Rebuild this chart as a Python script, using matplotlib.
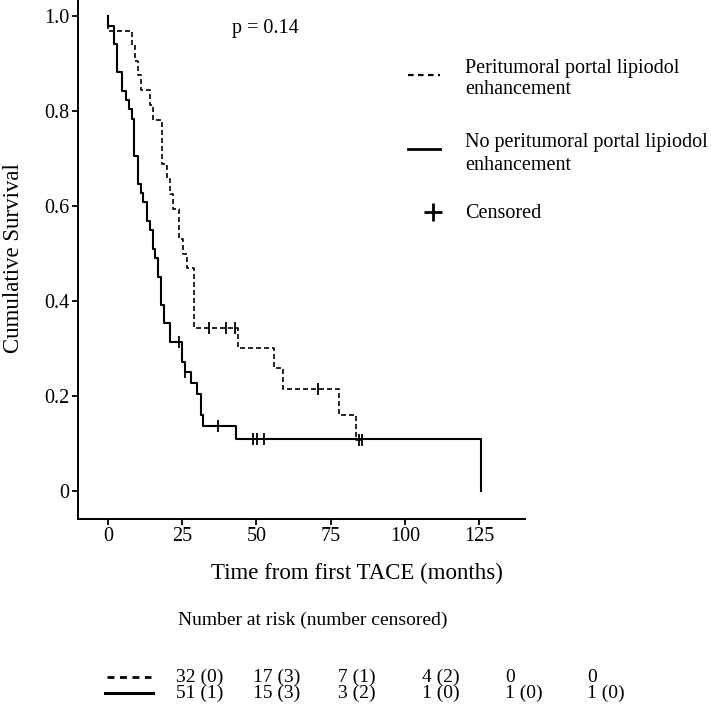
import matplotlib
matplotlib.use("Agg")
import matplotlib.pyplot as plt
from matplotlib.lines import Line2D

plt.rcParams['font.family'] = ['Liberation Serif', 'DejaVu Serif']

# ---------------- data ----------------
dashed_times = [0.0, 8.1, 9.1, 10.0, 11.0, 14.1, 15.0, 18.1, 20.0, 21.0, 22.0,
                23.9, 25.3, 26.7, 28.9, 43.7, 55.8, 58.8, 77.8, 83.7]
dashed_surv = [0.969, 0.938, 0.906, 0.875, 0.844, 0.813, 0.781, 0.688, 0.656,
               0.625, 0.594, 0.531, 0.500, 0.469, 0.344, 0.301, 0.258, 0.215,
               0.161, 0.108]
dashed_end = 85.6
dashed_cens_t = [34.0, 39.9, 42.8, 70.7, 84.7, 85.6]
dashed_cens_s = [0.344, 0.344, 0.344, 0.215, 0.108, 0.108]

solid_times = [0.0, 2.1, 3.1, 4.8, 6.1, 7.2, 8.1, 8.9, 10.0, 11.0, 11.9, 13.0,
               14.0, 15.0, 16.0, 16.8, 17.9, 19.0, 21.0, 25.0, 25.9, 27.8, 30.1,
               31.3, 32.1, 43.0, 125.7]
solid_surv = [0.980, 0.941, 0.882, 0.843, 0.824, 0.804, 0.784, 0.706, 0.647,
              0.627, 0.608, 0.569, 0.549, 0.510, 0.490, 0.451, 0.392, 0.353,
              0.314, 0.272, 0.251, 0.228, 0.205, 0.160, 0.137, 0.110, 0.0]
solid_cens_t = [23.9, 26.0, 36.9, 49.0, 50.2, 52.7]
solid_cens_s = [0.314, 0.251, 0.137, 0.110, 0.110, 0.110]

x_ticks = [0, 25, 50, 75, 100, 125]
y_ticks = [0, 0.2, 0.4, 0.6, 0.8, 1.0]
y_tick_labels = ["0", "0.2", "0.4", "0.6", "0.8", "1.0"]

legend_labels = ["Peritumoral portal lipiodol", "enhancement",
                 "No peritumoral portal lipiodol", "enhancement", "Censored"]
p_text = "p = 0.14"

risk_dashed = ["32 (0)", "17 (3)", "7 (1)", "4 (2)", "0", "0"]
risk_solid = ["51 (1)", "15 (3)", "3 (2)", "1 (0)", "1 (0)", "1 (0)"]

# ---------------- figure ----------------
W = H = 711
fig = plt.figure(figsize=(W / 100, H / 100), dpi=100)


def fx(px):
    return px / W


def fy(py):
    return 1 - py / H


ax_left, ax_right, ax_top, ax_bottom = 78, 525, 0, 519
ax = fig.add_axes([fx(ax_left), fy(ax_bottom), (ax_right - ax_left) / W,
                   (ax_bottom - ax_top) / H])

# data mapping: 0 month at px 108, 125 months at px 479 ; surv 1.0 at py 16, 0 at 491
x0px, xs = 108, (479 - 108) / 125
y1px, y0px = 16, 491
ax.set_xlim((ax_left - x0px) / xs, (ax_right - x0px) / xs)
ax.set_ylim(-(ax_bottom - y0px) / (y0px - y1px), 1 + (y1px - ax_top) / (y0px - y1px))

# curves
dx = [0.0] + dashed_times + [dashed_end]
dy = [1.0] + dashed_surv + [dashed_surv[-1]]
ax.step(dx, dy, where='post', color='black', lw=1.2, linestyle=(0, (3.0, 1.8)))

sx = [0.0] + solid_times
sy = [1.0] + solid_surv
ax.step(sx, sy, where='post', color='black', lw=1.5)

ax.plot(dashed_cens_t, dashed_cens_s, '|', color='black', ms=8, mew=1.3)
ax.plot(solid_cens_t, solid_cens_s, '|', color='black', ms=8, mew=1.3)

# axes styling
for s in ['top', 'right']:
    ax.spines[s].set_visible(False)
for s in ['left', 'bottom']:
    ax.spines[s].set_linewidth(1.4)
ax.set_xticks(x_ticks)
ax.set_xticklabels([str(v) for v in x_ticks])
ax.set_yticks(y_ticks)
ax.set_yticklabels(y_tick_labels)
ax.tick_params(direction='out', length=4, width=1.3, labelsize=14.5, pad=2)

fig.text(fx(14), fy(258), "Cumulative Survival", rotation=90, ha='center',
         va='center', fontsize=16.5)
fig.text(fx(357), fy(573), "Time from first TACE (months)", ha='center',
         va='center', fontsize=16.5)

# p value
fig.text(fx(265), fy(28), p_text, ha='center', va='center', fontsize=14.5)

# legend (manual)
fig.add_artist(Line2D([fx(408), fx(440)], [fy(75), fy(75)], color='black',
                      lw=1.6, linestyle=(0, (2.5, 2.0))))
fig.add_artist(Line2D([fx(408), fx(440)], [fy(149), fy(149)], color='black',
                      lw=2.0))
fig.add_artist(Line2D([fx(433)], [fy(212)], marker='+', color='black', ms=13,
                      mew=2.0, linestyle='none'))
leg_y = [69, 90, 142, 165, 213]
for lab, yy in zip(legend_labels, leg_y):
    fig.text(fx(465), fy(yy), lab, ha='left', va='center', fontsize=14.5)

# number at risk table
fig.text(fx(178), fy(620), "Number at risk (number censored)", ha='left',
         va='center', fontsize=14)
col_x = [176, 253, 338, 422, 505, 587]
fig.add_artist(Line2D([fx(107), fx(151)], [fy(677), fy(677)], color='black',
                      lw=2.0, linestyle=(0, (2.5, 2.0))))
fig.add_artist(Line2D([fx(105), fx(153)], [fy(693), fy(693)], color='black',
                      lw=2.2))
for cx, txt in zip(col_x, risk_dashed):
    fig.text(fx(cx), fy(677), txt, ha='left', va='center', fontsize=14)
for cx, txt in zip(col_x, risk_solid):
    fig.text(fx(cx), fy(693), txt, ha='left', va='center', fontsize=14)

fig.savefig("out.png", dpi=100)
